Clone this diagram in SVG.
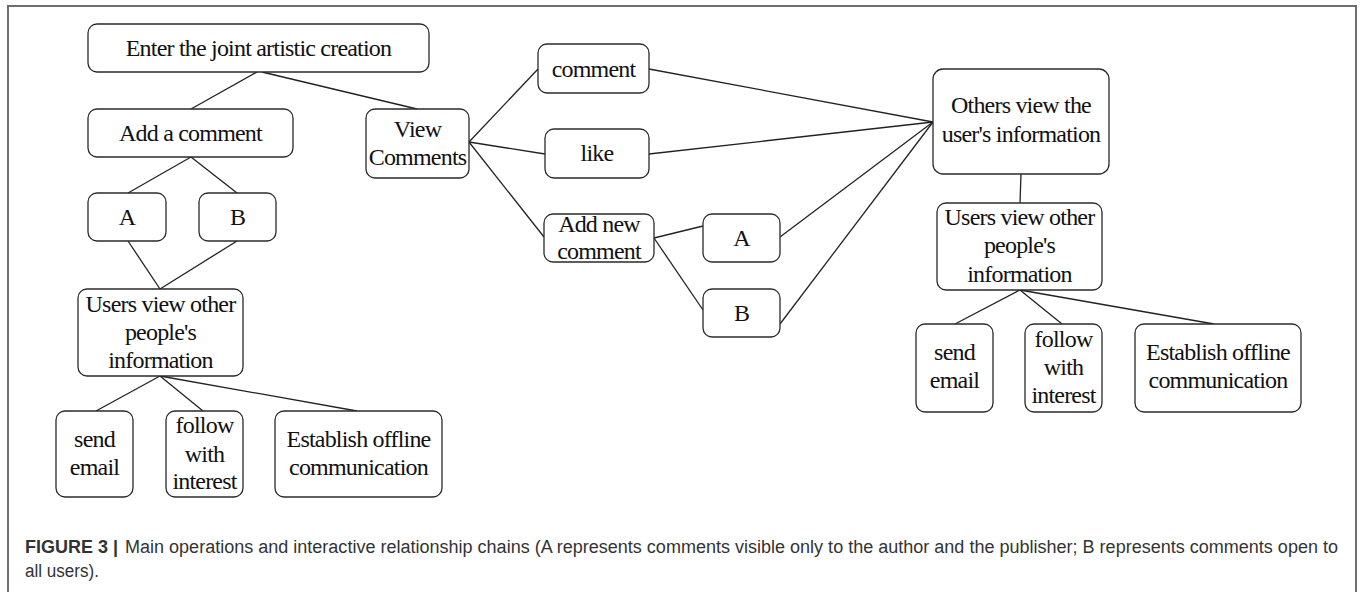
<svg xmlns="http://www.w3.org/2000/svg" width="1360" height="592" viewBox="0 0 1360 592">
<style>
.n rect{fill:#fff;stroke:#2a2a2a;stroke-width:1.3}
.n text{font-family:"Liberation Serif","Times New Roman",serif;font-size:24px;letter-spacing:-0.8px;fill:#111;text-anchor:middle}
#edges line{stroke:#222;stroke-width:1.3}
.cap{font-family:"Liberation Sans",Arial,sans-serif;font-size:18px;fill:#333}
</style>
<rect width="1360" height="592" fill="#fff"/>
<path d="M8,592 V6 H1356 V592" fill="none" stroke="#6e6e6e" stroke-width="2"/>
<g id="edges">
<line x1="257" y1="72" x2="191" y2="109"/>
<line x1="262" y1="72" x2="417" y2="109"/>
<line x1="191" y1="157" x2="128" y2="193"/>
<line x1="191" y1="157" x2="237" y2="193"/>
<line x1="128" y1="241" x2="160" y2="289"/>
<line x1="237" y1="241" x2="160" y2="289"/>
<line x1="160" y1="376" x2="96" y2="411"/>
<line x1="160" y1="376" x2="203" y2="411"/>
<line x1="160" y1="376" x2="357" y2="411"/>
<line x1="469" y1="142" x2="538" y2="69"/>
<line x1="469" y1="142" x2="545" y2="154"/>
<line x1="469" y1="142" x2="544" y2="237"/>
<line x1="649" y1="69" x2="933" y2="122"/>
<line x1="649" y1="154" x2="933" y2="122"/>
<line x1="654" y1="238" x2="703" y2="226"/>
<line x1="654" y1="238" x2="703" y2="310"/>
<line x1="780" y1="237" x2="933" y2="122"/>
<line x1="780" y1="324" x2="933" y2="122"/>
<line x1="1021" y1="174" x2="1020" y2="203"/>
<line x1="1020" y1="290" x2="955" y2="324"/>
<line x1="1020" y1="290" x2="1062" y2="324"/>
<line x1="1020" y1="290" x2="1214" y2="324"/>
</g>
<g id="enter" class="n"><rect x="88" y="24" width="341" height="48" rx="9"/><text x="258.5" y="56">Enter the joint artistic creation</text></g>
<g id="addComment" class="n"><rect x="88" y="109" width="205" height="48" rx="9"/><text x="190.5" y="141">Add a comment</text></g>
<g id="viewComments" class="n"><rect x="366" y="109" width="103" height="69" rx="9"/><text x="417.5" y="137">View</text><text x="417.5" y="165">Comments</text></g>
<g id="a1" class="n"><rect x="88" y="193" width="78" height="48" rx="9"/><text x="127" y="225">A</text></g>
<g id="b1" class="n"><rect x="199" y="193" width="77" height="48" rx="9"/><text x="237.5" y="225">B</text></g>
<g id="users1" class="n"><rect x="78" y="289" width="165" height="87" rx="9"/><text x="160.5" y="312">Users view other</text><text x="160.5" y="340">people's</text><text x="160.5" y="368">information</text></g>
<g id="send1" class="n"><rect x="56" y="411" width="77" height="86" rx="9"/><text x="94.5" y="447">send</text><text x="94.5" y="475">email</text></g>
<g id="follow1" class="n"><rect x="166" y="411" width="77" height="86" rx="9"/><text x="204.5" y="433">follow</text><text x="204.5" y="462">with</text><text x="204.5" y="489">interest</text></g>
<g id="est1" class="n"><rect x="275" y="411" width="167" height="86" rx="9"/><text x="358.5" y="447">Establish offline</text><text x="358.5" y="475">communication</text></g>
<g id="comment" class="n"><rect x="538" y="44" width="111" height="49" rx="9"/><text x="593.5" y="77">comment</text></g>
<g id="like" class="n"><rect x="545" y="129" width="104" height="49" rx="9"/><text x="597" y="161">like</text></g>
<g id="addNew" class="n"><rect x="544" y="214" width="110" height="48" rx="9"/><text x="599" y="232">Add new</text><text x="599" y="259">comment</text></g>
<g id="a2" class="n"><rect x="703" y="214" width="77" height="48" rx="9"/><text x="741.5" y="246">A</text></g>
<g id="b2" class="n"><rect x="703" y="289" width="77" height="48" rx="9"/><text x="741.5" y="321">B</text></g>
<g id="others" class="n"><rect x="933" y="69" width="176" height="105" rx="10"/><text x="1021" y="113">Others view the</text><text x="1021" y="142">user's information</text></g>
<g id="users2" class="n"><rect x="937" y="203" width="165" height="87" rx="9"/><text x="1019.5" y="225">Users view other</text><text x="1019.5" y="253">people's</text><text x="1019.5" y="282">information</text></g>
<g id="send2" class="n"><rect x="916" y="324" width="77" height="88" rx="9"/><text x="954.5" y="360">send</text><text x="954.5" y="388">email</text></g>
<g id="follow2" class="n"><rect x="1025" y="324" width="77" height="88" rx="9"/><text x="1063.5" y="347">follow</text><text x="1063.5" y="375">with</text><text x="1063.5" y="403">interest</text></g>
<g id="est2" class="n"><rect x="1135" y="324" width="166" height="88" rx="9"/><text x="1218" y="360">Establish offline</text><text x="1218" y="388">communication</text></g>
<text class="cap" x="25" y="553" font-weight="bold" fill="#222" textLength="93" lengthAdjust="spacingAndGlyphs">FIGURE 3 |</text>
<text class="cap" x="125" y="553" textLength="1213" lengthAdjust="spacingAndGlyphs">Main operations and interactive relationship chains (A represents comments visible only to the author and the publisher; B represents comments open to</text>
<text class="cap" x="25" y="577" textLength="74" lengthAdjust="spacingAndGlyphs">all users).</text>
</svg>
